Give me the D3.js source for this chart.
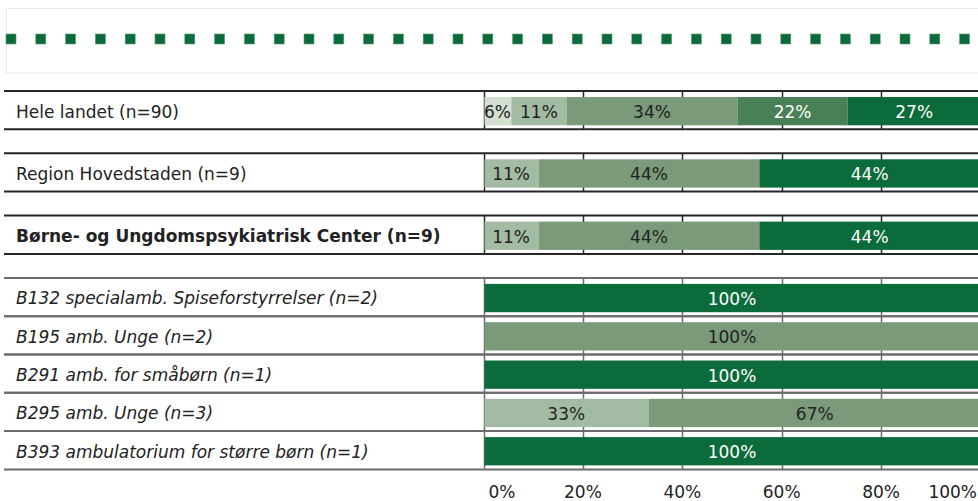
<!DOCTYPE html>
<html>
<head>
<meta charset="utf-8">
<script src="https://cdn.jsdelivr.net/npm/d3@7/dist/d3.min.js"></script>
<style>
  html, body { margin: 0; padding: 0; background: #fff; }
  svg { display: block; font-family: "DejaVu Sans", Verdana, sans-serif; }
</style>
</head>
<body>
<svg id="chart" width="978" height="501"></svg>
<script>
// Row labels and the group each row belongs to
const categories = [
  "Hele landet (n=90)",
  "Region Hovedstaden (n=9)",
  "Børne- og Ungdomspsykiatrisk Center (n=9)",
  "B132 specialamb. Spiseforstyrrelser (n=2)",
  "B195 amb. Unge (n=2)",
  "B291 amb. for småbørn (n=1)",
  "B295 amb. Unge (n=3)",
  "B393 ambulatorium for større børn (n=1)"
];
const rowKinds = ["country", "region", "center", "unit", "unit", "unit", "unit", "unit"];

// Share of answers (%) in each of the five response levels, per row
const level1 = [5.6, 0, 0, 0, 0, 0, 0, 0];
const level2 = [11.1, 11.1, 11.1, 0, 0, 0, 33.3, 0];
const level3 = [34.4, 44.4, 44.4, 0, 100, 0, 66.7, 0];
const level4 = [22.2, 0, 0, 0, 0, 0, 0, 0];
const level5 = [26.7, 44.4, 44.4, 100, 0, 100, 0, 100];
const seriesKeys = ["level1", "level2", "level3", "level4", "level5"];

const xTicks = [0, 20, 40, 60, 80, 100];
const xTickLabels = ["0%", "20%", "40%", "60%", "80%", "100%"];

// ---- drawing ----
const svg = d3.select("#chart");
const W = 978;

const fills = {
  level1: "#d3dfd1", level2: "#a3bba2", level3: "#7a9a79",
  level4: "#4a8055", level5: "#0c6b3a"
};
const textFill = {
  level1: "#222", level2: "#222", level3: "#222",
  level4: "#fff", level5: "#fff"
};

const rows = categories.map((name, i) => {
  const r = { name, kind: rowKinds[i] };
  r.level1 = level1[i]; r.level2 = level2[i]; r.level3 = level3[i];
  r.level4 = level4[i]; r.level5 = level5[i];
  return r;
});

const stack = d3.stack().keys(seriesKeys)(rows);

const x = d3.scaleLinear().domain([0, 100]).range([483.5, 980.5]);

// vertical layout: a gap whenever the row group changes
const rowH = 38.3, gapH = 24, top0 = 91;
const rowTop = [];
let yCur = top0;
rows.forEach((r, i) => {
  if (i > 0 && r.kind !== rows[i - 1].kind) yCur += gapH;
  if (i > 0 && r.kind === rows[i - 1].kind && r.kind !== "unit") yCur += gapH;
  rowTop.push(yCur);
  yCur += rowH;
});

const lineColor = k => (k === "unit" ? "#6b6b6b" : "#262626");

// legend frame with a dotted green marker line
const legend = svg.append("g");
legend.append("rect")
  .attr("x", 6.5).attr("y", 8.5).attr("width", W).attr("height", 64.5)
  .attr("fill", "#fff").attr("stroke", "#ebebeb").attr("stroke-width", 1);
legend.selectAll("rect.dot")
  .data(d3.range(0, 33))
  .join("rect")
  .attr("class", "dot")
  .attr("x", d => 6 + d * 29.8)
  .attr("y", 34)
  .attr("width", 10).attr("height", 10)
  .attr("fill", "#0c6b3a")
  .attr("stroke", "#5f9a78").attr("stroke-width", 0.6);

// row frames: horizontal rules, gridlines and the label/bar separator
const rowG = svg.append("g").selectAll("g.row")
  .data(rows)
  .join("g")
  .attr("class", "row")
  .attr("transform", (d, i) => `translate(0,${rowTop[i]})`);

rowG.each(function (d) {
  const g = d3.select(this);
  const c = lineColor(d.kind);
  g.selectAll("line.grid")
    .data(xTicks)
    .join("line")
    .attr("class", "grid")
    .attr("x1", t => Math.round(x(t)) + 0.5)
    .attr("x2", t => Math.round(x(t)) + 0.5)
    .attr("y1", 0).attr("y2", rowH)
    .attr("stroke", c).attr("stroke-width", t => (t === 0 ? 1.5 : 1.5));
  g.append("line")
    .attr("x1", 4).attr("x2", W).attr("y1", 0).attr("y2", 0)
    .attr("stroke", c).attr("stroke-width", 2);
  g.append("line")
    .attr("x1", 4).attr("x2", W).attr("y1", rowH).attr("y2", rowH)
    .attr("stroke", c).attr("stroke-width", 2);
});

// bar segments
const barTop = 6, barH = rowH - 10;
const segG = svg.append("g").selectAll("g.series")
  .data(stack)
  .join("g")
  .attr("class", "series");

segG.selectAll("rect")
  .data(s => s.map((d, i) => ({ key: s.key, d0: d[0], d1: d[1], i })))
  .join("rect")
  .filter(d => d.d1 - d.d0 > 0)
  .attr("x", d => x(d.d0) + (d.d0 === 0 ? 1 : 0))
  .attr("y", d => rowTop[d.i] + barTop)
  .attr("width", d => x(d.d1) - x(d.d0) - (d.d0 === 0 ? 1 : 0))
  .attr("height", barH)
  .attr("fill", d => fills[d.key]);

// value labels
segG.selectAll("text")
  .data(s => s.map((d, i) => ({ key: s.key, d0: d[0], d1: d[1], i })).filter(d => d.d1 - d.d0 > 0))
  .join("text")
  .attr("x", d => (x(d.d0) + Math.min(x(d.d1), x(100))) / 2)
  .attr("y", d => rowTop[d.i] + 27)
  .attr("text-anchor", "middle")
  .attr("font-size", 17)
  .attr("fill", d => textFill[d.key])
  .text(d => Math.round(d.d1 - d.d0) + "%");

// row labels
rowG.append("text")
  .attr("x", 16)
  .attr("y", 26.5)
  .attr("font-size", 17)
  .attr("fill", "#222")
  .attr("font-weight", d => (d.kind === "center" ? "bold" : "normal"))
  .attr("font-style", d => (d.kind === "unit" ? "italic" : "normal"))
  .text(d => d.name);

// x axis labels
svg.append("g").selectAll("text")
  .data(xTicks)
  .join("text")
  .attr("x", (t, i) => i === 0 ? x(t) + 5 : (i === xTicks.length - 1 ? W - 1 : x(t)))
  .attr("y", 498)
  .attr("text-anchor", (t, i) => i === 0 ? "start" : (i === xTicks.length - 1 ? "end" : "middle"))
  .attr("font-size", 17)
  .attr("fill", "#222")
  .text((t, i) => xTickLabels[i]);
</script>
</body>
</html>
